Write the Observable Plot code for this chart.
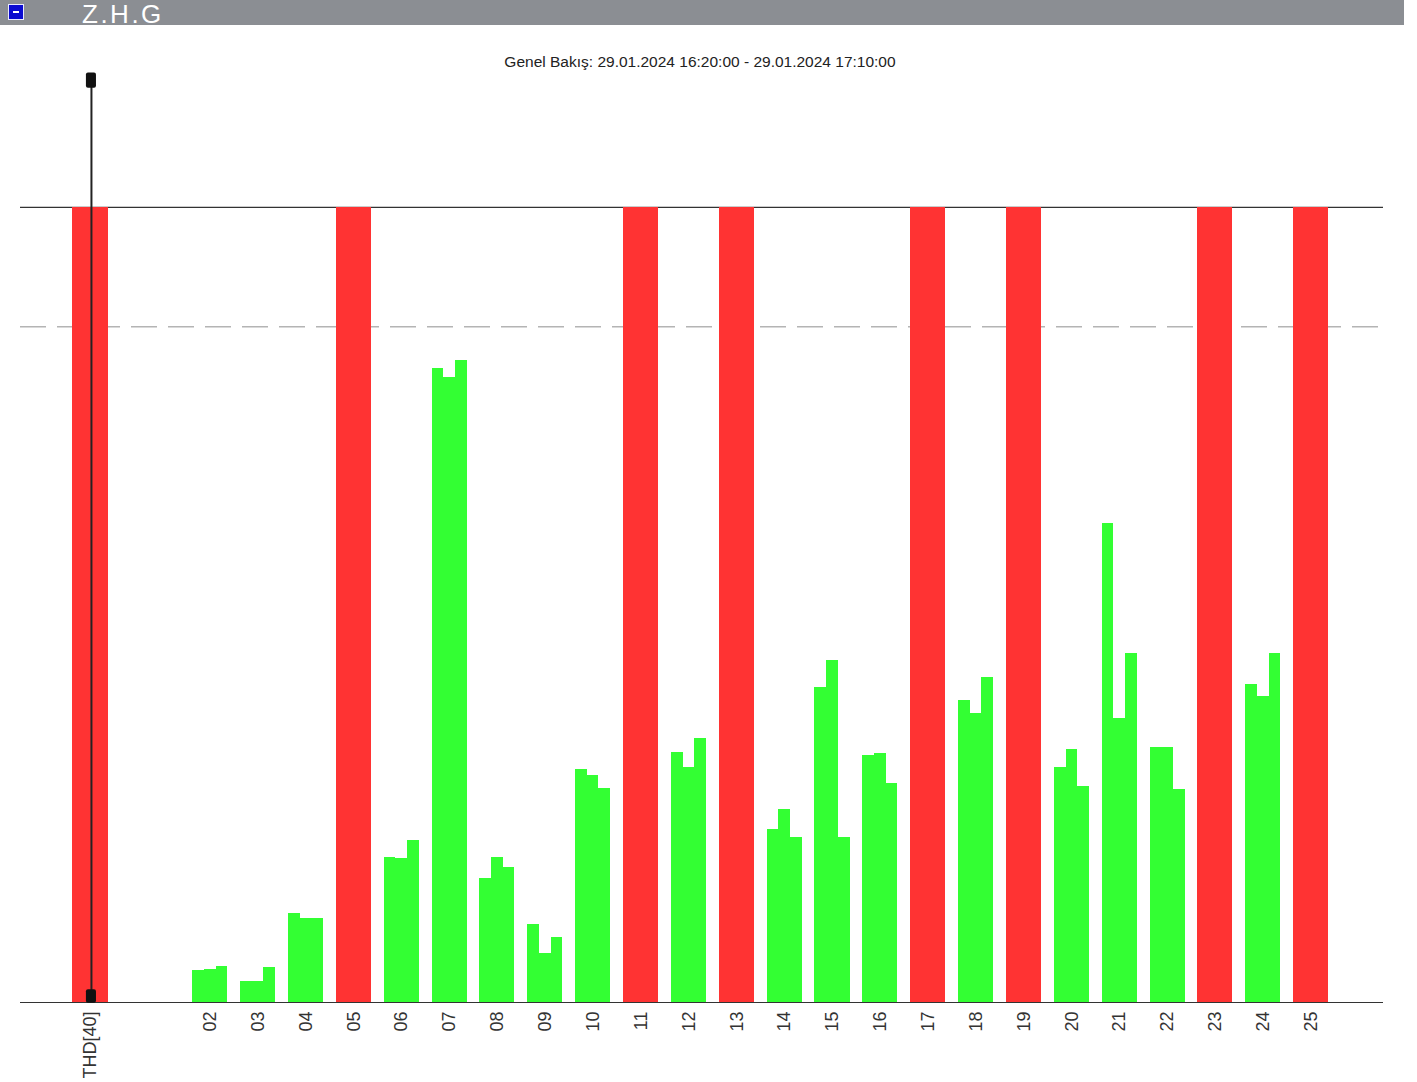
<!DOCTYPE html>
<html>
<head>
<meta charset="utf-8">
<script src="https://cdn.jsdelivr.net/npm/d3@7"></script>
<script src="https://cdn.jsdelivr.net/npm/@observablehq/plot@0.6"></script>
<style>
  html, body { margin: 0; padding: 0; background: #fff; }
  #wrap { position: relative; width: 1417px; height: 1082px; overflow: hidden; font-family: "Liberation Sans", Arial, sans-serif; }
  #header { position: absolute; left: 0; top: 0; width: 1404px; height: 25px; background: #8b8e93; }
  #icon { position: absolute; left: 8px; top: 4px; width: 14px; height: 14px; background: #0a0ad0; border: 1px solid #e8e8ff; }
  #icon::after { content: ""; position: absolute; left: 4px; top: 6px; width: 6px; height: 2px; background: #fff; }
  #header .name { position: absolute; left: 82px; top: 0; font-family: "Liberation Sans", Arial, sans-serif; font-size: 26px; letter-spacing: 2.5px; color: #fff; line-height: 29px; }
  #title { position: absolute; left: 0; top: 53px; width: 1400px; text-align: center; font-size: 15.5px; line-height: 18px; color: #222; }
  #chart { position: absolute; left: 0; top: 68px; }
</style>
</head>
<body>
<div id="wrap">
  <div id="header"><div id="icon"></div><div class="name">Z.H.G</div></div>
  <div id="title">Genel Bakış: 29.01.2024 16:20:00 - 29.01.2024 17:10:00</div>
  <div id="chart"></div>
</div>
<script>
// Categories (harmonic order) and values as % of the limit
const categories = ["THD[40]","02","03","04","05","06","07","08","09","10","11","12","13","14","15","16","17","18","19","20","21","22","23","24","25"];
const exceeded = ["THD[40]","05","11","13","17","19","23","25"];
const series1 = [null,4.0,2.6,11.2,null,18.2,79.7,15.6,9.8,29.3,null,31.4,null,21.8,39.6,31.1,null,38.0,null,29.6,60.3,32.1,null,40.0,null];
const series2 = [null,4.2,2.6,10.6,null,18.1,78.6,18.2,6.2,28.6,null,29.6,null,24.3,43.0,31.3,null,36.4,null,31.8,35.7,32.1,null,38.5,null];
const series3 = [null,4.5,4.4,10.6,null,20.4,80.8,17.0,8.2,26.9,null,33.2,null,20.8,20.8,27.5,null,40.9,null,27.2,43.9,26.8,null,43.9,null];
const limit = 100;
const warning = 85;
const cursorCategory = "THD[40]";

const pos = c => c === "THD[40]" ? 0 : +c + 0.5;
const half = 0.366;
const sub = (2 * half) / 3;
const series = [series1, series2, series3];

const green = [];
categories.forEach((c, i) => {
  if (exceeded.includes(c)) return;
  series.forEach((s, k) => {
    const x1 = pos(c) - half + k * sub;
    green.push({x1, x2: x1 + sub, y: s[i]});
  });
});
const red = exceeded.map(c => ({x1: pos(c) - half, x2: pos(c) + half, y: limit}));
const labelMap = new Map(categories.map(c => [pos(c), c]));
const cx = pos(cursorCategory) + 0.02;
const handles = [
  {x1: cx - 0.105, x2: cx + 0.105, y1: 115.0, y2: 116.9},
  {x1: cx - 0.105, x2: cx + 0.105, y1: -0.1, y2: 1.6}
];

const chart = Plot.plot({
  width: 1417,
  height: 1014,
  marginLeft: 20,
  marginRight: 34,
  marginTop: 0,
  marginBottom: 80,
  style: {fontFamily: "'Liberation Sans', Arial, sans-serif", background: "transparent", overflow: "visible"},
  x: {type: "linear", domain: [-1.462, 27.01]},
  y: {domain: [0, 117.48], axis: null},
  marks: [
    Plot.ruleY([warning], {stroke: "#b4b4b4", strokeWidth: 1.6, strokeDasharray: "26,11"}),
    Plot.ruleY([limit], {stroke: "#333", strokeWidth: 1.2}),
    Plot.rectY(green, {x1: "x1", x2: "x2", y1: 0, y2: "y", fill: "#33ff33", shapeRendering: "crispEdges"}),
    Plot.rectY(red, {x1: "x1", x2: "x2", y1: 0, y2: "y", fill: "#ff3333", shapeRendering: "crispEdges"}),
    Plot.ruleY([0], {stroke: "#333", strokeWidth: 1.2}),
    Plot.ruleX([cx], {y1: 0.3, y2: 116.4, stroke: "#222", strokeWidth: 2}),
    Plot.rect(handles, {x1: "x1", x2: "x2", y1: "y1", y2: "y2", fill: "#111", rx: 2}),
    Plot.axisX({
      ticks: categories.map(pos),
      tickFormat: d => labelMap.get(d),
      tickRotate: -90,
      tickSize: 0,
      tickPadding: 9,
      fontSize: 18,
      fill: "#333",
      label: null
    })
  ]
});
document.getElementById("chart").appendChild(chart);
</script>
</body>
</html>
